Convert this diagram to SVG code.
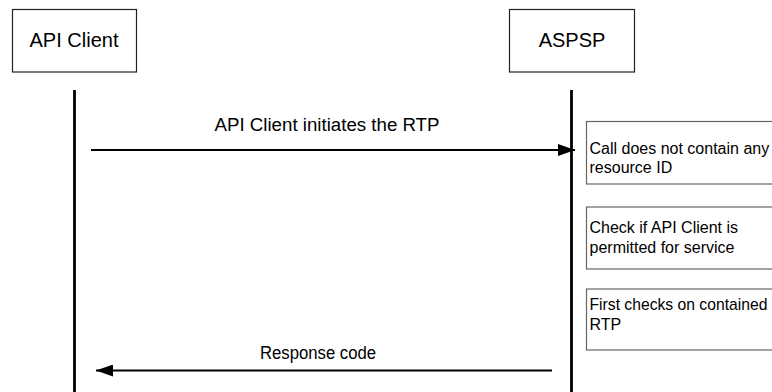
<svg xmlns="http://www.w3.org/2000/svg" width="772" height="392" viewBox="0 0 772 392">
<style>
text{font-family:"Liberation Sans",Arial,sans-serif;fill:#000}
.hdr{fill:#fff;stroke:#222;stroke-width:1.2}
.act{fill:#fff;stroke:#666;stroke-width:1.2}
.life{stroke:#000;stroke-width:2.8}
.msg{stroke:#000;stroke-width:2;fill:none}
.t20{font-size:20px}
.t18{font-size:18px}
.t16{font-size:16px}
</style>
<defs>
<marker id="ah" viewBox="0 0 17 12" refX="17" refY="6" markerWidth="17" markerHeight="12" markerUnits="userSpaceOnUse" orient="auto">
<path d="M0,0 L17,6 L0,12 Z" fill="#000"/>
</marker>
</defs>
<g id="api-client">
<rect class="hdr" x="12.5" y="9.5" width="124" height="62.5"/>
<text class="t20" x="74" y="47" text-anchor="middle">API Client</text>
</g>
<g id="aspsp">
<rect class="hdr" x="509.5" y="9.5" width="125" height="62.5"/>
<text class="t20" x="572" y="47" text-anchor="middle">ASPSP</text>
</g>
<g id="lifelines">
<line class="life" x1="74.5" y1="90" x2="74.5" y2="392"/>
<line class="life" x1="571.5" y1="90" x2="571.5" y2="392"/>
</g>
<g id="step1">
<rect class="act" x="586.5" y="121.5" width="200" height="62.5"/>
<text class="t16" x="589.5" y="154">Call does not contain any</text>
<text class="t16" x="589.5" y="173">resource ID</text>
</g>
<g id="step2">
<rect class="act" x="586.5" y="207" width="200" height="62"/>
<text class="t16" x="589.5" y="233">Check if API Client is</text>
<text class="t16" x="589.5" y="253">permitted for service</text>
</g>
<g id="step3">
<rect class="act" x="586.5" y="289" width="200" height="61"/>
<text x="589.5" y="310" style="font-size:15.7px">First checks on contained</text>
<text class="t16" x="589.5" y="330">RTP</text>
</g>
<g id="connectors">
<line class="msg" x1="91" y1="150" x2="575" y2="150" marker-end="url(#ah)"/>
<text class="t18" x="327" y="131" text-anchor="middle" textLength="225" lengthAdjust="spacingAndGlyphs">API Client initiates the RTP</text>
<line class="msg" x1="552" y1="370.5" x2="96" y2="370.5" marker-end="url(#ah)"/>
<text class="t18" x="318" y="359" text-anchor="middle" textLength="116" lengthAdjust="spacingAndGlyphs">Response code</text>
</g>
</svg>
